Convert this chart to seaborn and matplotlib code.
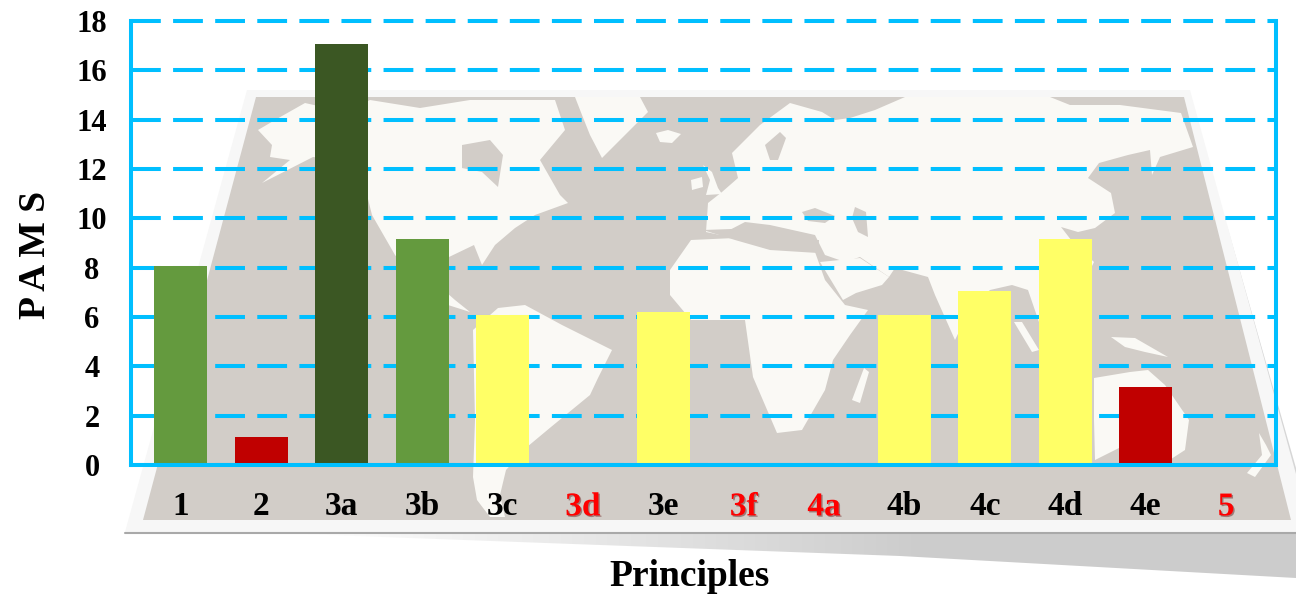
import numpy as np
import pandas as pd
import matplotlib
matplotlib.use("Agg")
import matplotlib.pyplot as plt
import matplotlib.patheffects as pe
from matplotlib.patches import Polygon
import seaborn as sns

# values
principles = ["1", "2", "3a", "3b", "3c", "3d", "3e", "3f", "4a", "4b", "4c", "4d", "4e", "5"]
pams = [8.05, 1.15, 17.05, 9.15, 6.1, 0, 6.2, 0, 0, 6.1, 7.05, 9.15, 3.15, 0]
bar_colors = ["#649a3e", "#c00000", "#3b5723", "#649a3e", "#ffff66", "#ffff66", "#ffff66",
              "#ffff66", "#ffff66", "#ffff66", "#ffff66", "#ffff66", "#c00000", "#c00000"]
label_colors = ["black", "black", "black", "black", "black", "red", "black",
                "red", "red", "black", "black", "black", "black", "red"]
y_ticks = list(range(0, 19, 2))

# background map sketch, in picture pixels
sheet = [(247, 90), (1190, 90), (1312, 532), (125, 532)]
sea = [(256, 97), (1184, 97), (1291, 520), (143, 520)]
land = [
    # north america
    [(258, 130), (275, 120), (305, 103), (345, 112), (370, 100), (420, 108), (470, 100), (555, 100),
     (565, 130), (540, 160), (560, 195), (568, 203), (535, 215), (515, 228), (495, 245), (482, 265),
     (474, 245), (449, 257), (438, 285), (455, 300), (470, 312), (448, 305), (425, 290), (395, 255),
     (372, 215), (362, 175), (340, 160), (313, 157), (262, 183), (290, 160), (270, 157), (272, 145)],
    # greenland
    [(575, 97), (640, 97), (648, 112), (625, 135), (602, 158), (590, 135), (582, 115)],
    # south america
    [(473, 330), (498, 308), (525, 305), (562, 325), (612, 350), (598, 378), (590, 395), (551, 427),
     (527, 447), (506, 470), (500, 495), (505, 517), (490, 517), (477, 500), (473, 477), (475, 420)],
    # iceland, britain, ireland
    [(656, 133), (668, 130), (681, 134), (672, 143), (660, 142)],
    [(703, 165), (712, 172), (718, 188), (722, 194), (706, 195), (710, 180)],
    [(691, 180), (702, 177), (703, 187), (692, 190)],
    # eurasia
    [(708, 203), (722, 192), (738, 178), (732, 153), (760, 125), (790, 103), (822, 112), (835, 120),
     (850, 118), (875, 110), (905, 97), (1050, 97), (1070, 105), (1120, 105), (1181, 113), (1193, 147),
     (1160, 157), (1152, 175), (1150, 150), (1128, 155), (1099, 163), (1088, 178), (1111, 193),
     (1115, 213), (1095, 228), (1078, 232), (1061, 227), (1075, 245), (1094, 262), (1080, 290),
     (1050, 315), (1040, 325), (1028, 290), (1012, 285), (990, 290), (972, 305), (955, 340), (935, 295),
     (928, 277), (895, 268), (889, 277), (860, 257), (845, 262), (825, 255), (815, 235), (770, 225),
     (745, 222), (720, 235), (706, 232)],
    # arabia
    [(820, 262), (860, 258), (889, 277), (882, 285), (856, 293), (843, 300)],
    # africa
    [(691, 240), (735, 238), (765, 248), (815, 252), (825, 280), (845, 305), (868, 310), (850, 335),
     (833, 360), (825, 390), (802, 430), (777, 433), (753, 377), (745, 320), (691, 320), (670, 295),
     (670, 270)],
    # madagascar, sumatra, new guinea, australia, new zealand
    [(864, 368), (869, 372), (860, 403), (852, 400)],
    [(1014, 322), (1022, 322), (1039, 350), (1032, 352)],
    [(1111, 337), (1135, 338), (1168, 357), (1145, 352), (1125, 347)],
    [(1094, 378), (1130, 372), (1148, 370), (1165, 385), (1189, 420), (1185, 450), (1165, 463),
     (1150, 450), (1125, 445), (1095, 460), (1094, 420)],
    [(1259, 433), (1266, 445), (1271, 455), (1255, 477), (1247, 473), (1262, 455)],
]
inland_sea = [
    [(462, 145), (490, 140), (503, 155), (498, 187), (482, 172), (462, 168)],
    [(703, 230), (760, 228), (790, 240), (819, 240), (818, 253), (770, 250), (735, 240)],
    [(802, 212), (815, 208), (835, 216), (825, 223), (808, 221)],
    [(855, 207), (866, 212), (868, 237), (858, 232), (852, 218)],
    [(770, 160), (765, 145), (780, 132), (786, 138), (778, 160)],
]
shadow = [(300, 534), (1296, 534), (1296, 578), (900, 556)]
edge_shadow = [(1226, 222), (1296, 468), (1296, 482)]

sns.set_theme(style="white")
plt.rcParams["font.family"] = ["Liberation Serif", "DejaVu Serif"]

fig = plt.figure(figsize=(12.96, 5.95), dpi=100)

# map sheet sits behind the chart
bg = fig.add_axes([0, 0, 1, 1], zorder=0)
bg.axis("off")

ramp = np.clip(np.linspace(0, 1.6, 256), 0, 1)
ramp_rgba = np.ones((1, 256, 4))
ramp_rgba[..., :3] = 0.8
ramp_rgba[..., 3] = ramp
im = bg.imshow(ramp_rgba, extent=(300, 1296, 578, 534), aspect="auto", zorder=1)
im.set_clip_path(Polygon(shadow, transform=bg.transData))
bg.set_xlim(0, 1296)
bg.set_ylim(595, 0)

bg.add_patch(Polygon(edge_shadow, fc="#d6d6d6", ec="none", zorder=1))
bg.add_patch(Polygon(sheet, fc="#f7f7f7", ec="none", zorder=2))
bg.plot([125, 1296], [532.5, 532.5], color="#a9a9a9", lw=1.5, zorder=3)
bg.add_patch(Polygon(sea, fc="#d2cdc8", ec="none", zorder=4))
for shape in land:
    bg.add_patch(Polygon(shape, fc="#faf9f5", ec="none", zorder=5))
for shape in inland_sea:
    bg.add_patch(Polygon(shape, fc="#d2cdc8", ec="none", zorder=6))

# chart
ax = fig.add_axes([131 / 1296, 130 / 595, 1145 / 1296, 444 / 595], zorder=1)
ax.patch.set_visible(False)

df = pd.DataFrame({"principle": principles, "pams": pams})
sns.barplot(data=df, x="principle", y="pams", hue="principle", palette=bar_colors,
            width=0.66, saturation=1, legend=False, linewidth=0, ax=ax)

ax.set_xlim(-0.62, 13.62)
ax.set_ylim(0, 18)
ax.set_yticks(y_ticks)
ax.set_axisbelow(True)

# the top dashed line sits on the axes edge, so it needs clipping off
dash = (0, (7.4, 3.05))
ax.grid(axis="y", color="#00bfff", lw=2.9, linestyle=dash)
ax.axhline(y_ticks[-1], color="#00bfff", lw=2.9, linestyle=dash, clip_on=False, zorder=0.5)
ax.get_ygridlines()[-1].set_visible(False)

for side in ["left", "right", "bottom"]:
    ax.spines[side].set_color("#00bfff")
    ax.spines[side].set_linewidth(2.9)
    ax.spines[side].set_zorder(5)
ax.spines["top"].set_visible(False)

ax.tick_params(axis="y", length=0, pad=28, labelsize=22, labelcolor="black")
ax.tick_params(axis="x", length=0, pad=19, labelsize=24)
for lab in ax.get_yticklabels():
    lab.set_fontweight("bold")
    lab.set_ha("center")
for lab, col in zip(ax.get_xticklabels(), label_colors):
    lab.set_fontweight("bold")
    lab.set_color(col)
    if col == "red":
        lab.set_path_effects([pe.withSimplePatchShadow(offset=(1, -1), alpha=0.4)])

ax.set_xlabel("Principles", fontsize=27, fontweight="bold", color="black", x=0.488, labelpad=26)
ax.set_ylabel("P A M S", fontsize=27, fontweight="bold", color="black", y=0.473, labelpad=17)

fig.savefig("out.png", dpi=100)
